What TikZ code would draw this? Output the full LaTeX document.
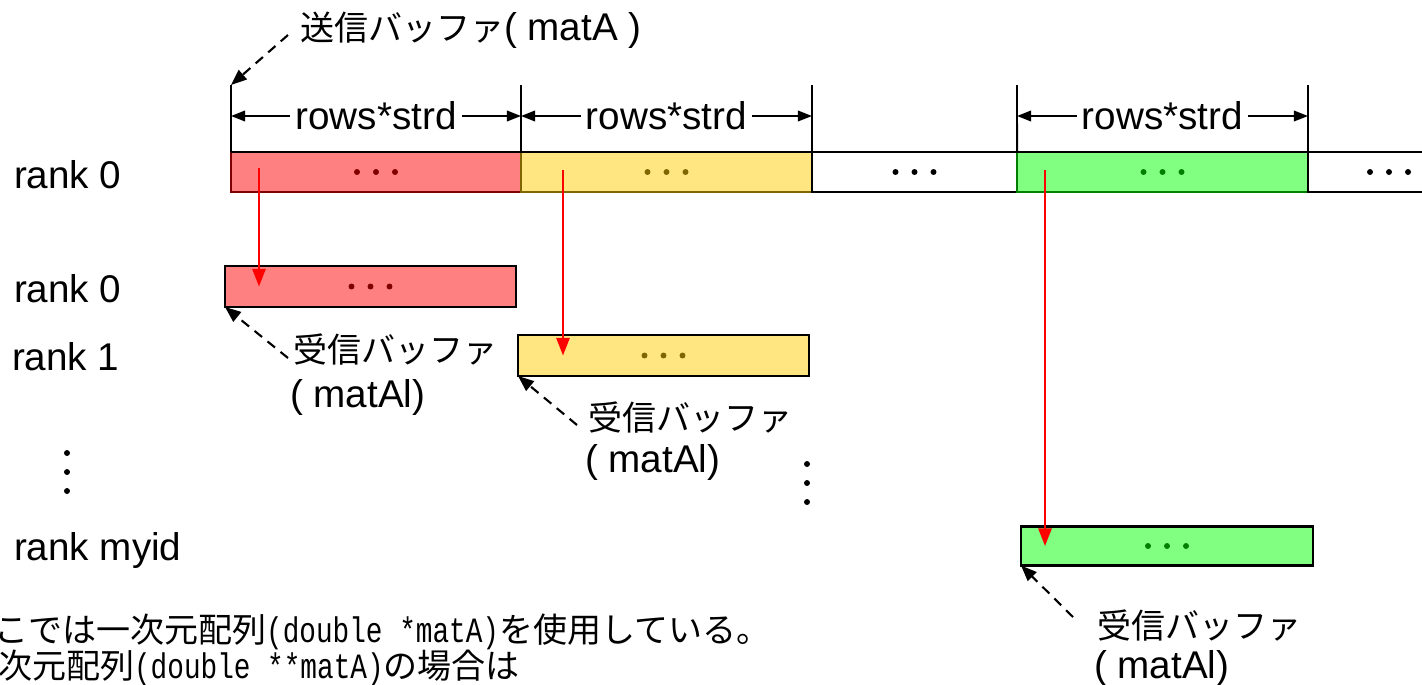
\documentclass[tikz,border=0pt]{standalone}
\usepackage{fontspec}
\setmainfont{Liberation Sans}
\newfontfamily\jp[Scale=0.88]{Noto Sans CJK JP}
\newfontfamily\halfmono[Scale=0.92,FakeStretch=0.78]{Liberation Mono}
\usetikzlibrary{arrows.meta}

\definecolor{bufred}{HTML}{FF8080}
\definecolor{bufredline}{HTML}{800000}
\definecolor{bufyel}{HTML}{FFE680}
\definecolor{bufyelline}{HTML}{806600}
\definecolor{bufgrn}{HTML}{80FF80}
\definecolor{bufgrnline}{HTML}{008000}

\begin{document}
\begin{tikzpicture}[x=0.02cm, y=-0.02cm,
  font=\fontsize{22pt}{23pt}\selectfont,
  seg/.style={draw=#1, line width=1.6pt, minimum height=0.8cm, inner sep=0pt, outer sep=0pt},
  lbl/.style={inner sep=0pt, outer sep=0pt},
  dim/.style={{Triangle[length=8pt,width=6pt]}-{Triangle[length=8pt,width=6pt]}, line width=1.1pt},
  copyarrow/.style={-{Triangle[length=10pt,width=7.5pt]}, red, line width=1.2pt},
  ptr/.style={-{Triangle[length=9pt,width=7pt]}, line width=1.2pt, dash pattern=on 5.5pt off 4pt}]

\useasboundingbox (0,0) rectangle (1422,684);

% send buffer on rank 0
\node[seg=bufredline, fill=bufred, minimum width=5.8cm] (s0) at (376,172) {};
\node[seg=bufyelline, fill=bufyel, minimum width=5.82cm] (s1) at (666.5,172) {};
\node[seg=black, fill=white, minimum width=4.1cm] (s2) at (914.5,172) {};
\node[seg=bufgrnline, fill=bufgrn, minimum width=5.82cm] (s3) at (1162.5,172) {};
\node[seg=black, fill=white, minimum width=3.24cm] (s4) at (1389,172) {};
\draw[line width=1.6pt] (s0.north west) -- (s4.north east);

% receive buffers
\node[seg=black, fill=bufred, minimum width=5.82cm, minimum height=0.82cm] (r0) at (370.5,286.5) {};
\node[seg=black, fill=bufyel, minimum width=5.82cm, minimum height=0.82cm] (r1) at (663.5,355.5) {};
\node[seg=black, fill=bufgrn, minimum width=5.84cm, minimum height=0.78cm] (rm) at (1167,546) {};

\foreach \n/\c in {s0/bufredline, s1/bufyelline, s2/black, s3/bufgrnline, s4/black,
                   r0/bufredline, r1/bufyelline, rm/bufgrnline}
  \foreach \dx in {-19,0,19}
    \fill[\c] ([xshift=\dx*0.02cm]\n.center) circle (1.7pt);

% size marks
\coordinate (t0) at (231,85);
\coordinate (t1) at (521,85);
\coordinate (t2) at (812,85);
\coordinate (t3) at (1017,85);
\coordinate (t4) at (1308,85);
\draw[line width=1.1pt] (t0) -- (s0.north west);
\draw[line width=1.1pt] (t1) -- (s0.north east);
\draw[line width=1.1pt] (t2) -- (s1.north east);
\draw[line width=1.1pt] (t3) -- (s3.north west);
\draw[line width=1.1pt] (t4) -- (s3.north east);

\coordinate (d0) at (231,116);
\coordinate (d1) at (521,116);
\coordinate (d2) at (812,116);
\coordinate (d3) at (1017,116);
\coordinate (d4) at (1308,116);
\draw[dim] (d0) -- (d1) node[midway, fill=white, inner sep=3pt] (w0) {rows*strd};
\draw[dim] (d1) -- (d2) node[midway, fill=white, inner sep=3pt] (w1) {rows*strd};
\draw[dim] (d3) -- (d4) node[midway, fill=white, inner sep=3pt] (w2) {rows*strd};

% copies
\coordinate (a0) at (259,168);
\coordinate (a1) at (563,170);
\coordinate (a2) at (1045,170);
\draw[copyarrow] (a0) -- (a0 |- r0.center);
\draw[copyarrow] (a1) -- (a1 |- r1.center);
\draw[copyarrow] (a2) -- (a2 |- rm.center);

% ranks
\node[lbl, anchor=west] (rk0) at (14,175) {rank 0};
\node[lbl, anchor=west] (rk0b) at (14,289) {rank 0};
\node[lbl, anchor=west] (rk1) at (12,357) {rank 1};
\node[lbl, anchor=west] (rkm) at (14,550) {rank myid};
\foreach \y in {453,472,491} \fill (67,\y) circle (1.7pt);
\foreach \y in {464,483,502} \fill (807,\y) circle (1.7pt);

% buffer names
\node[lbl, anchor=west] (sendbuf) at (300,30) {{\jp 送信バッファ}( matA )};
\draw[ptr] ([shift={(-12,5)}]sendbuf.west) -- (t0);

\node[lbl, anchor=west] (rbuf0) at (293,349) {\jp 受信バッファ};
\node[lbl, anchor=west] (rbuf0b) at (290,397) {( matAl)};
\draw[ptr] ([shift={(-5,9)}]rbuf0.west) -- (r0.south west);

\node[lbl, anchor=west] (rbuf1) at (588,417) {\jp 受信バッファ};
\node[lbl, anchor=west] (rbuf1b) at (585,462) {( matAl)};
\draw[ptr] ([shift={(-11,8)}]rbuf1.west) -- (r1.south west);

\node[lbl, anchor=west] (rbufm) at (1097,625) {\jp 受信バッファ};
\node[lbl, anchor=west] (rbufmb) at (1094,668) {( matAl)};
\draw[ptr] ([shift={(-24,-8)}]rbufm.west) -- (rm.south west);

% note
\node[lbl, anchor=west] (note1) at (-40,632) {\jp ここでは一次元配列{\halfmono(double *matA)}を使用している。};
\node[lbl, anchor=west] (note2) at (-36,668) {\jp 二次元配列{\halfmono(double **matA)}の場合は};

\end{tikzpicture}
\end{document}
